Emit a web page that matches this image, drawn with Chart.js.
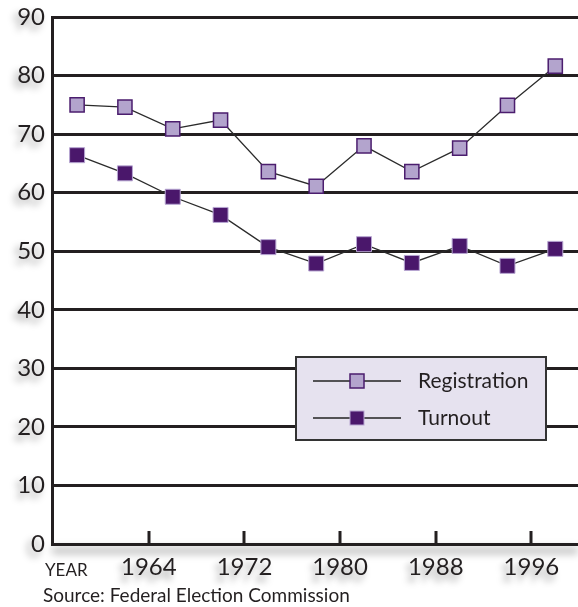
<!DOCTYPE html>
<html lang="en">
<head>
<meta charset="UTF-8">
<title>Registration and Turnout</title>
<script src="https://cdn.jsdelivr.net/npm/chart.js"></script>
<style>
    body { margin: 0; background: #fff; }
    .chart-container { position: relative; width: 578px; height: 607px; }
</style>
</head>
<body>
<div class="chart-container">
    <canvas id="chart"></canvas>
</div>
<script>
    // values
    const years = [1958, 1962, 1966, 1970, 1974, 1978, 1982, 1986, 1990, 1994, 1998];
    const registration = [75.0, 74.6, 70.9, 72.4, 63.6, 61.1, 68.0, 63.6, 67.6, 74.9, 81.6];
    const turnout = [66.4, 63.3, 59.3, 56.2, 50.7, 47.9, 51.2, 48.0, 50.9, 47.5, 50.4];
    const yearTicks = [1964, 1972, 1980, 1988, 1996];
    const valueTicks = [0, 10, 20, 30, 40, 50, 60, 70, 80, 90];
    const seriesNames = ['Registration', 'Turnout'];

    const ink = '#231f20';
    const font = 'Lato, "Open Sans", sans-serif';

    const toPoints = vals => vals.map((v, i) => ({ x: years[i], y: v }));

    // soft grey glow behind the axis labels and under the year axis
    const glow = {
        id: 'glow',
        beforeDraw(chart) {
            const ctx = chart.ctx;
            const xs = chart.scales.x, ys = chart.scales.y;
            const area = chart.chartArea;
            const shift = 2000;
            ctx.save();
            ctx.fillStyle = '#000';
            ctx.shadowColor = 'rgba(0,0,0,0.38)';
            ctx.shadowBlur = 7;
            ctx.shadowOffsetX = shift - 4;
            ctx.shadowOffsetY = 5;
            ctx.font = '24px ' + font;
            ctx.textBaseline = 'middle';
            ctx.textAlign = 'right';
            valueTicks.forEach(v => {
                ctx.fillText(String(v), 45 - shift, ys.getPixelForValue(v));
            });
            ctx.textAlign = 'center';
            yearTicks.forEach(yr => {
                ctx.fillText(String(yr), xs.getPixelForValue(yr) - shift, 568);
            });
            ctx.shadowColor = 'rgba(0,0,0,0.35)';
            ctx.shadowBlur = 9;
            ctx.shadowOffsetX = shift;
            ctx.shadowOffsetY = 6;
            ctx.fillRect(area.left - shift, area.bottom - 2, area.right - area.left, 5);
            ctx.restore();
        }
    };

    // inward tick marks on the year axis, plus the footer text
    const extras = {
        id: 'extras',
        afterDraw(chart) {
            const ctx = chart.ctx;
            const xs = chart.scales.x;
            const bottom = chart.chartArea.bottom;
            ctx.save();
            ctx.strokeStyle = ink;
            ctx.lineWidth = 3;
            yearTicks.forEach(yr => {
                const px = Math.round(xs.getPixelForValue(yr));
                ctx.beginPath();
                ctx.moveTo(px, bottom);
                ctx.lineTo(px, bottom - 13);
                ctx.stroke();
            });
            ctx.fillStyle = ink;
            ctx.textBaseline = 'alphabetic';
            ctx.font = '17px ' + font;
            ctx.fillText('YEAR', 45, 576);
            ctx.font = '19px ' + font;
            ctx.fillText('Source: Federal Election Commission', 43, 602);
            ctx.restore();
        }
    };

    // boxed legend sitting on top of the grid
    const boxLegend = {
        id: 'boxLegend',
        afterDatasetsDraw(chart) {
            const ctx = chart.ctx;
            const bx = 296, by = 357, bw = 250, bh = 83;
            ctx.save();
            ctx.fillStyle = '#e6e2ef';
            ctx.fillRect(bx, by, bw, bh);
            ctx.strokeStyle = '#333';
            ctx.lineWidth = 2;
            ctx.strokeRect(bx, by, bw, bh);
            chart.data.datasets.forEach((ds, i) => {
                const ly = by + 24 + i * 37;
                ctx.strokeStyle = '#222';
                ctx.lineWidth = 1.3;
                ctx.beginPath();
                ctx.moveTo(313, ly);
                ctx.lineTo(401, ly);
                ctx.stroke();
                const s = 14;
                ctx.fillStyle = ds.pointBackgroundColor;
                ctx.fillRect(357 - s / 2, ly - s / 2, s, s);
                ctx.strokeStyle = ds.pointBorderColor;
                ctx.lineWidth = ds.pointBorderWidth;
                ctx.strokeRect(357 - s / 2, ly - s / 2, s, s);
                ctx.fillStyle = ink;
                ctx.font = '21px ' + font;
                ctx.textBaseline = 'middle';
                ctx.fillText(ds.label, 418, ly);
            });
            ctx.restore();
        }
    };

    new Chart(document.getElementById('chart').getContext('2d'), {
        type: 'line',
        data: {
            datasets: [
                {
                    label: seriesNames[0],
                    data: toPoints(registration),
                    borderColor: '#2b2b2b',
                    borderWidth: 1.3,
                    pointStyle: 'rect',
                    pointRadius: 10,
                    pointBackgroundColor: '#b3a4cd',
                    pointBorderColor: '#4b1d6e',
                    pointBorderWidth: 1.5,
                    tension: 0
                },
                {
                    label: seriesNames[1],
                    data: toPoints(turnout),
                    borderColor: '#2b2b2b',
                    borderWidth: 1.3,
                    pointStyle: 'rect',
                    pointRadius: 10.6,
                    pointBackgroundColor: '#4a176b',
                    pointBorderColor: '#b7a6d2',
                    pointBorderWidth: 1,
                    tension: 0
                }
            ]
        },
        options: {
            responsive: true,
            maintainAspectRatio: false,
            animation: false,
            layout: { autoPadding: false, padding: { top: 17, right: 0, left: 0, bottom: 0 } },
            plugins: {
                legend: { display: false },
                tooltip: { enabled: false }
            },
            scales: {
                x: {
                    type: 'linear',
                    min: 1955.9,
                    max: 1999.9,
                    afterBuildTicks: scale => { scale.ticks = yearTicks.map(v => ({ value: v })); },
                    afterFit: scale => {
                        scale.height = 63;
                        scale.paddingLeft = 0;
                        scale.paddingRight = 0;
                    },
                    grid: { display: false, drawTicks: false },
                    border: { display: true, color: ink, width: 3 },
                    ticks: {
                        color: ink,
                        padding: 9,
                        maxRotation: 0,
                        font: { family: font, size: 24 },
                        callback: v => String(v)
                    }
                },
                y: {
                    min: 0,
                    max: 90,
                    afterBuildTicks: scale => { scale.ticks = valueTicks.map(v => ({ value: v })); },
                    afterFit: scale => {
                        scale.width = 52;
                        scale.paddingTop = 0;
                        scale.paddingBottom = 0;
                    },
                    grid: { color: ink, lineWidth: 3, drawTicks: false },
                    border: { display: true, color: ink, width: 3 },
                    ticks: {
                        color: ink,
                        padding: 7,
                        font: { family: font, size: 24 }
                    }
                }
            }
        },
        plugins: [glow, boxLegend, extras]
    });
</script>
</body>
</html>
